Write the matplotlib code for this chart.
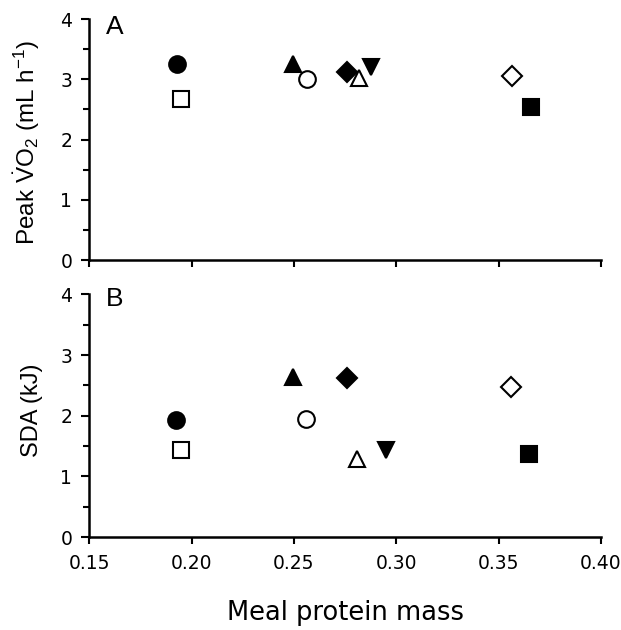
import numpy as np
import matplotlib.pyplot as plt
from matplotlib.ticker import MultipleLocator

plt.rcParams['font.family'] = ['DejaVu Sans']
plt.rcParams['mathtext.fontset'] = 'custom'
plt.rcParams['mathtext.rm'] = 'Liberation Sans'
plt.rcParams['mathtext.it'] = 'Liberation Sans:italic'

# marker style, fill for each animal
markers = ['o', 's', '^', 'o', 'D', '^', 'v', 'D', 's']
filled = [True, False, True, False, True, False, True, False, True]

# panel A: peak VO2
xA = [0.1928, 0.1947, 0.2497, 0.2562, 0.2759, 0.282, 0.2876, 0.3567, 0.3659]
peakVO2 = [3.26, 2.67, 3.25, 3.01, 3.12, 3.02, 3.20, 3.05, 2.54]

# panel B: SDA
xB = [0.1925, 0.195, 0.2495, 0.256, 0.276, 0.281, 0.295, 0.356, 0.365]
sda = [1.93, 1.43, 2.63, 1.95, 2.62, 1.29, 1.43, 2.48, 1.37]

sizes = {'o': 12, 's': 12, '^': 11, 'v': 11, 'D': 10.5}

fig = plt.figure(figsize=(6.21, 6.30), dpi=100)
axA = fig.add_axes([0.1438, 0.5873, 0.824, 0.3825])
axB = fig.add_axes([0.1438, 0.1476, 0.824, 0.3852])

def draw(ax, x, y):
    for xi, yi, m, f in zip(x, y, markers, filled):
        ax.plot(xi, yi, m, ms=sizes[m], mec='black', mew=1.5,
                mfc='black' if f else 'white', clip_on=False)
    ax.set_xlim(0.15, 0.40)
    ax.set_ylim(0, 4)
    ax.spines['top'].set_visible(False)
    ax.spines['right'].set_visible(False)
    ax.spines['left'].set_linewidth(1.8)
    ax.spines['bottom'].set_linewidth(1.8)
    ax.xaxis.set_major_locator(MultipleLocator(0.05))
    ax.yaxis.set_major_locator(MultipleLocator(1))
    ax.yaxis.set_minor_locator(MultipleLocator(0.5))
    ax.tick_params(axis='x', direction='out', length=4.7, width=1.5,
                   labelsize=13.5, pad=7.5)
    ax.tick_params(axis='y', which='major', direction='out', length=5.8,
                   width=1.5, labelsize=13.5, pad=6.5)
    ax.tick_params(axis='y', which='minor', direction='out', length=4.3,
                   width=1.5)

draw(axA, xA, peakVO2)
draw(axB, xB, sda)

axA.set_xticklabels([])
axB.set_xticks([0.15, 0.20, 0.25, 0.30, 0.35, 0.40])
axB.set_xticklabels(['0.15', '0.20', '0.25', '0.30', '0.35', '0.40'])

axA.set_ylabel(r'Peak $\dot{\mathrm{V}}\mathrm{O}_2$ (mL h$^{\mathrm{-1}}$)',
               fontsize=17.5, family='Liberation Sans')
axA.yaxis.set_label_coords(-0.0915, 0.488)
axB.set_ylabel('SDA (kJ)', fontsize=17, family='Liberation Sans')
axB.yaxis.set_label_coords(-0.09, 0.521)
axB.set_xlabel('Meal protein mass', fontsize=18.5)
axB.xaxis.set_label_coords(0.5, -0.2596)

axA.text(0.0326, 1.0166, 'A', transform=axA.transAxes, fontsize=19,
         family='Liberation Sans', va='top')
axB.text(0.0326, 1.029, 'B', transform=axB.transAxes, fontsize=19,
         family='Liberation Sans', va='top')

plt.savefig('out.png', dpi=100)
